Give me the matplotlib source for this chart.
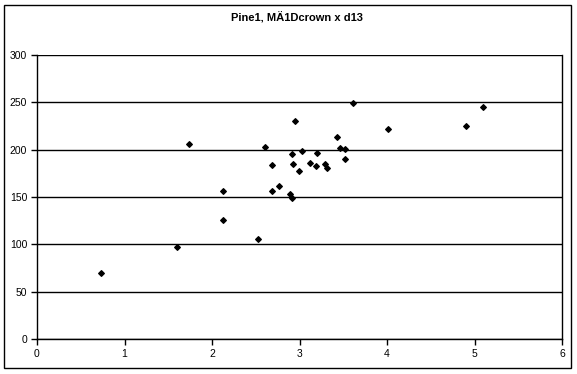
import matplotlib
matplotlib.use("Agg")
import matplotlib.pyplot as plt
from matplotlib.patches import Rectangle

# values
d13 = [0.73, 1.60, 1.74, 2.12, 2.12, 2.52, 2.61, 2.69, 2.68, 2.76,
       2.89, 2.91, 2.91, 2.93, 2.95, 2.99, 3.03, 3.12, 3.19, 3.20,
       3.29, 3.31, 3.43, 3.46, 3.52, 3.52, 3.61, 4.01, 4.90, 5.10]
crown = [70, 97, 206, 156, 126, 106, 203, 184, 156, 162,
         153, 149, 195, 185, 230, 177, 199, 186, 183, 197,
         185, 181, 213, 202, 201, 190, 249, 222, 225, 245]
x_ticks = [0, 1, 2, 3, 4, 5, 6]
y_ticks = [0, 50, 100, 150, 200, 250, 300]
title = "Pine1, MÄ1Dcrown x d13"

plt.rcParams['font.family'] = ['Liberation Sans', 'DejaVu Sans']

W, H = 577, 374
fig = plt.figure(figsize=(W / 100, H / 100), dpi=100)

# outer chart border
fig.patches.append(Rectangle((4 / W, 1 - 368 / H), (571 - 4) / W, (368 - 5) / H,
                             transform=fig.transFigure, fill=False,
                             edgecolor='black', linewidth=1))

ax = fig.add_axes([37 / W, 1 - 339 / H, (562 - 37) / W, (339 - 55) / H])
ax.scatter(d13, crown, marker='D', s=8, color='black', zorder=3)

ax.set_xlim(0, 6)
ax.set_ylim(0, 300)
ax.set_xticks(x_ticks)
ax.set_yticks(y_ticks)
ax.yaxis.grid(True, color='black', linewidth=1)
ax.set_axisbelow(True)
for s in ax.spines.values():
    s.set_color('black')
    s.set_linewidth(1)
ax.spines['top'].set_visible(False)
ax.tick_params(direction='out', length=4, width=1, labelsize=7.5, pad=3)

fig.text(297 / W, 1 - 18 / H, title, ha='center', va='center',
         fontsize=8, fontweight='bold')

fig.savefig("out.png", dpi=100)
